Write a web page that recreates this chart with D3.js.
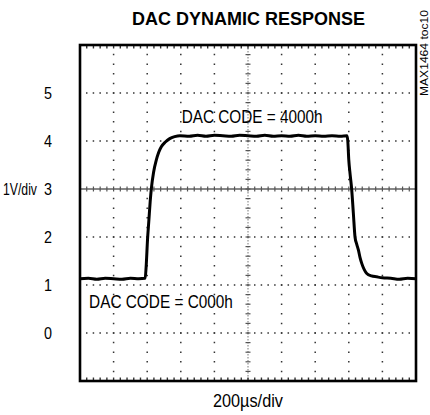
<!DOCTYPE html>
<html>
<head>
<meta charset="utf-8">
<script src="https://cdn.jsdelivr.net/npm/d3@7"></script>
<style>
  body { margin: 0; background: #fff; }
  svg text { font-family: "Liberation Sans", Arial, sans-serif; fill: #000; }
</style>
</head>
<body>
<div id="chart"></div>
<script>
// trace (time in µs, level in V)
const timeUs = [0, 50, 100, 150, 200, 250, 300, 350, 388,
  394, 402, 410, 418, 425, 438, 454, 468, 484, 508, 534, 563, 595,
  650, 700, 750, 800, 850, 900, 950, 1000, 1050, 1100, 1150, 1200, 1250, 1300, 1350, 1400, 1450, 1500, 1550, 1590,
  1594, 1600, 1608, 1617, 1627, 1637, 1647, 1657, 1667, 1677, 1692, 1707, 1735, 1766, 1800, 1850, 1900, 1950, 2000];
const volts = [1.13, 1.14, 1.12, 1.14, 1.13, 1.12, 1.14, 1.13, 1.14,
  1.4, 1.95, 2.35, 2.75, 3.02, 3.35, 3.6, 3.76, 3.88, 3.98, 4.05, 4.09, 4.11,
  4.10, 4.12, 4.10, 4.12, 4.11, 4.10, 4.12, 4.11, 4.10, 4.12, 4.10, 4.11, 4.10, 4.12, 4.10, 4.11, 4.10, 4.11, 4.10, 4.11,
  4.0, 3.6, 3.3, 3.0, 2.5, 2.0, 1.85, 1.73, 1.57, 1.45, 1.32, 1.24, 1.19, 1.17, 1.15, 1.14, 1.12, 1.14, 1.13];

const yTickLabels = [0, 1, 2, 3, 4, 5];
const xDivs = [200, 400, 600, 800, 1000, 1200, 1400, 1600, 1800];
const yDivs = [0, 1, 2, 3, 4, 5];
const centerTime = 1000;
const centerVolt = 3;

const W = 430, H = 415;
const margin = { top: 45, right: 14, bottom: 34, left: 80 };
const width = W - margin.left - margin.right;
const height = H - margin.top - margin.bottom;

const svg = d3.select('#chart').append('svg')
  .attr('width', W)
  .attr('height', H);

const g = svg.append('g')
  .attr('transform', `translate(${margin.left},${margin.top})`);

const x = d3.scaleLinear().domain([0, 2000]).range([0, width]);
const y = d3.scaleLinear().domain([-1, 6]).range([height, 0]);

const xMinor = (x(200) - x(0)) / 5;
const yMinor = (y(0) - y(1)) / 5;

// dotted grid
g.selectAll('.hgrid')
  .data(yDivs.filter(d => d !== centerVolt))
  .enter().append('line')
  .attr('x1', 0).attr('x2', width)
  .attr('y1', d => y(d)).attr('y2', d => y(d))
  .attr('stroke', '#333')
  .attr('stroke-width', 1.5)
  .attr('stroke-dasharray', `1.5 ${xMinor - 1.5}`)
  .attr('stroke-dashoffset', -xMinor + 0.75);

g.selectAll('.vgrid')
  .data(xDivs.filter(d => d !== centerTime))
  .enter().append('line')
  .attr('y1', 0).attr('y2', height)
  .attr('x1', d => x(d)).attr('x2', d => x(d))
  .attr('stroke', '#333')
  .attr('stroke-width', 1.5)
  .attr('stroke-dasharray', `1.5 ${yMinor - 1.5}`)
  .attr('stroke-dashoffset', -yMinor + 0.75);

// centre axes with minor ticks
const minorX = d3.range(1, 50).map(i => i * xMinor);
const minorY = d3.range(1, 35).map(i => i * yMinor);

g.append('line')
  .attr('x1', 0).attr('x2', width)
  .attr('y1', y(centerVolt)).attr('y2', y(centerVolt))
  .attr('stroke', '#888')
  .attr('stroke-width', 2.2);

g.selectAll('.cxt')
  .data(minorX)
  .enter().append('line')
  .attr('x1', d => d).attr('x2', d => d)
  .attr('y1', y(centerVolt) - 2.5).attr('y2', y(centerVolt) + 2.5)
  .attr('stroke', '#555')
  .attr('stroke-width', 1.2);

g.append('line')
  .attr('x1', x(centerTime)).attr('x2', x(centerTime))
  .attr('y1', 0).attr('y2', height)
  .attr('stroke', '#777')
  .attr('stroke-width', 1)
  .attr('stroke-dasharray', '1.5 1.5');

g.selectAll('.cyt')
  .data(minorY)
  .enter().append('line')
  .attr('y1', d => d).attr('y2', d => d)
  .attr('x1', x(centerTime) - 2.5).attr('x2', x(centerTime) + 2.5)
  .attr('stroke', '#555')
  .attr('stroke-width', 1.2);

// ticks along the top and bottom edges
g.selectAll('.tt')
  .data(minorX)
  .enter().append('line')
  .attr('x1', d => d).attr('x2', d => d)
  .attr('y1', 0).attr('y2', 3.5)
  .attr('stroke', '#333')
  .attr('stroke-width', 1.4);

g.selectAll('.bt')
  .data(minorX)
  .enter().append('line')
  .attr('x1', d => d).attr('x2', d => d)
  .attr('y1', height - 3.5).attr('y2', height)
  .attr('stroke', '#333')
  .attr('stroke-width', 1.4);

// trace
const pts = timeUs.map((t, i) => [t, volts[i]]);
const line = d3.line()
  .x(d => x(d[0]))
  .y(d => y(d[1]))
  .curve(d3.curveMonotoneX);

g.append('path')
  .datum(pts)
  .attr('d', line)
  .attr('fill', 'none')
  .attr('stroke', '#000')
  .attr('stroke-width', 3)
  .attr('stroke-linejoin', 'round');

// frame
g.append('rect')
  .attr('x', 0).attr('y', 0)
  .attr('width', width).attr('height', height)
  .attr('fill', 'none')
  .attr('stroke', '#000')
  .attr('stroke-width', 2.6);

// the original uses a narrow face: draw normal type, then squeeze it horizontally
function narrow(parent, str, px, py, len, size, rot) {
  const t = parent.append('text')
    .attr('dy', '0.36em')
    .style('font-size', size + 'px')
    .text(str);
  const k = len / t.node().getComputedTextLength();
  t.attr('transform', `translate(${px},${py})${rot ? ' rotate(-90)' : ''} scale(${k},1)`);
  return t;
}

// y labels
yTickLabels.forEach(v => {
  narrow(g, d3.format('d')(v), -36, y(v), 8, 17);
});

narrow(svg, '1V/div', 3, y(centerVolt) + margin.top, 34, 17);

// annotations
narrow(g, 'DAC CODE = 4000h', x(605), y(4.5), 141, 18);
narrow(g, 'DAC CODE = C000h', x(54), y(0.65), 144, 18);

narrow(svg, '200µs/div', margin.left + x(centerTime) - 35, 401, 70, 18);

narrow(svg, 'DAC DYNAMIC RESPONSE', 132, 18, 231, 19).style('font-weight', 'bold');

narrow(svg, 'MAX1464 toc10', 424, 96, 86, 11, true);
</script>
</body>
</html>
